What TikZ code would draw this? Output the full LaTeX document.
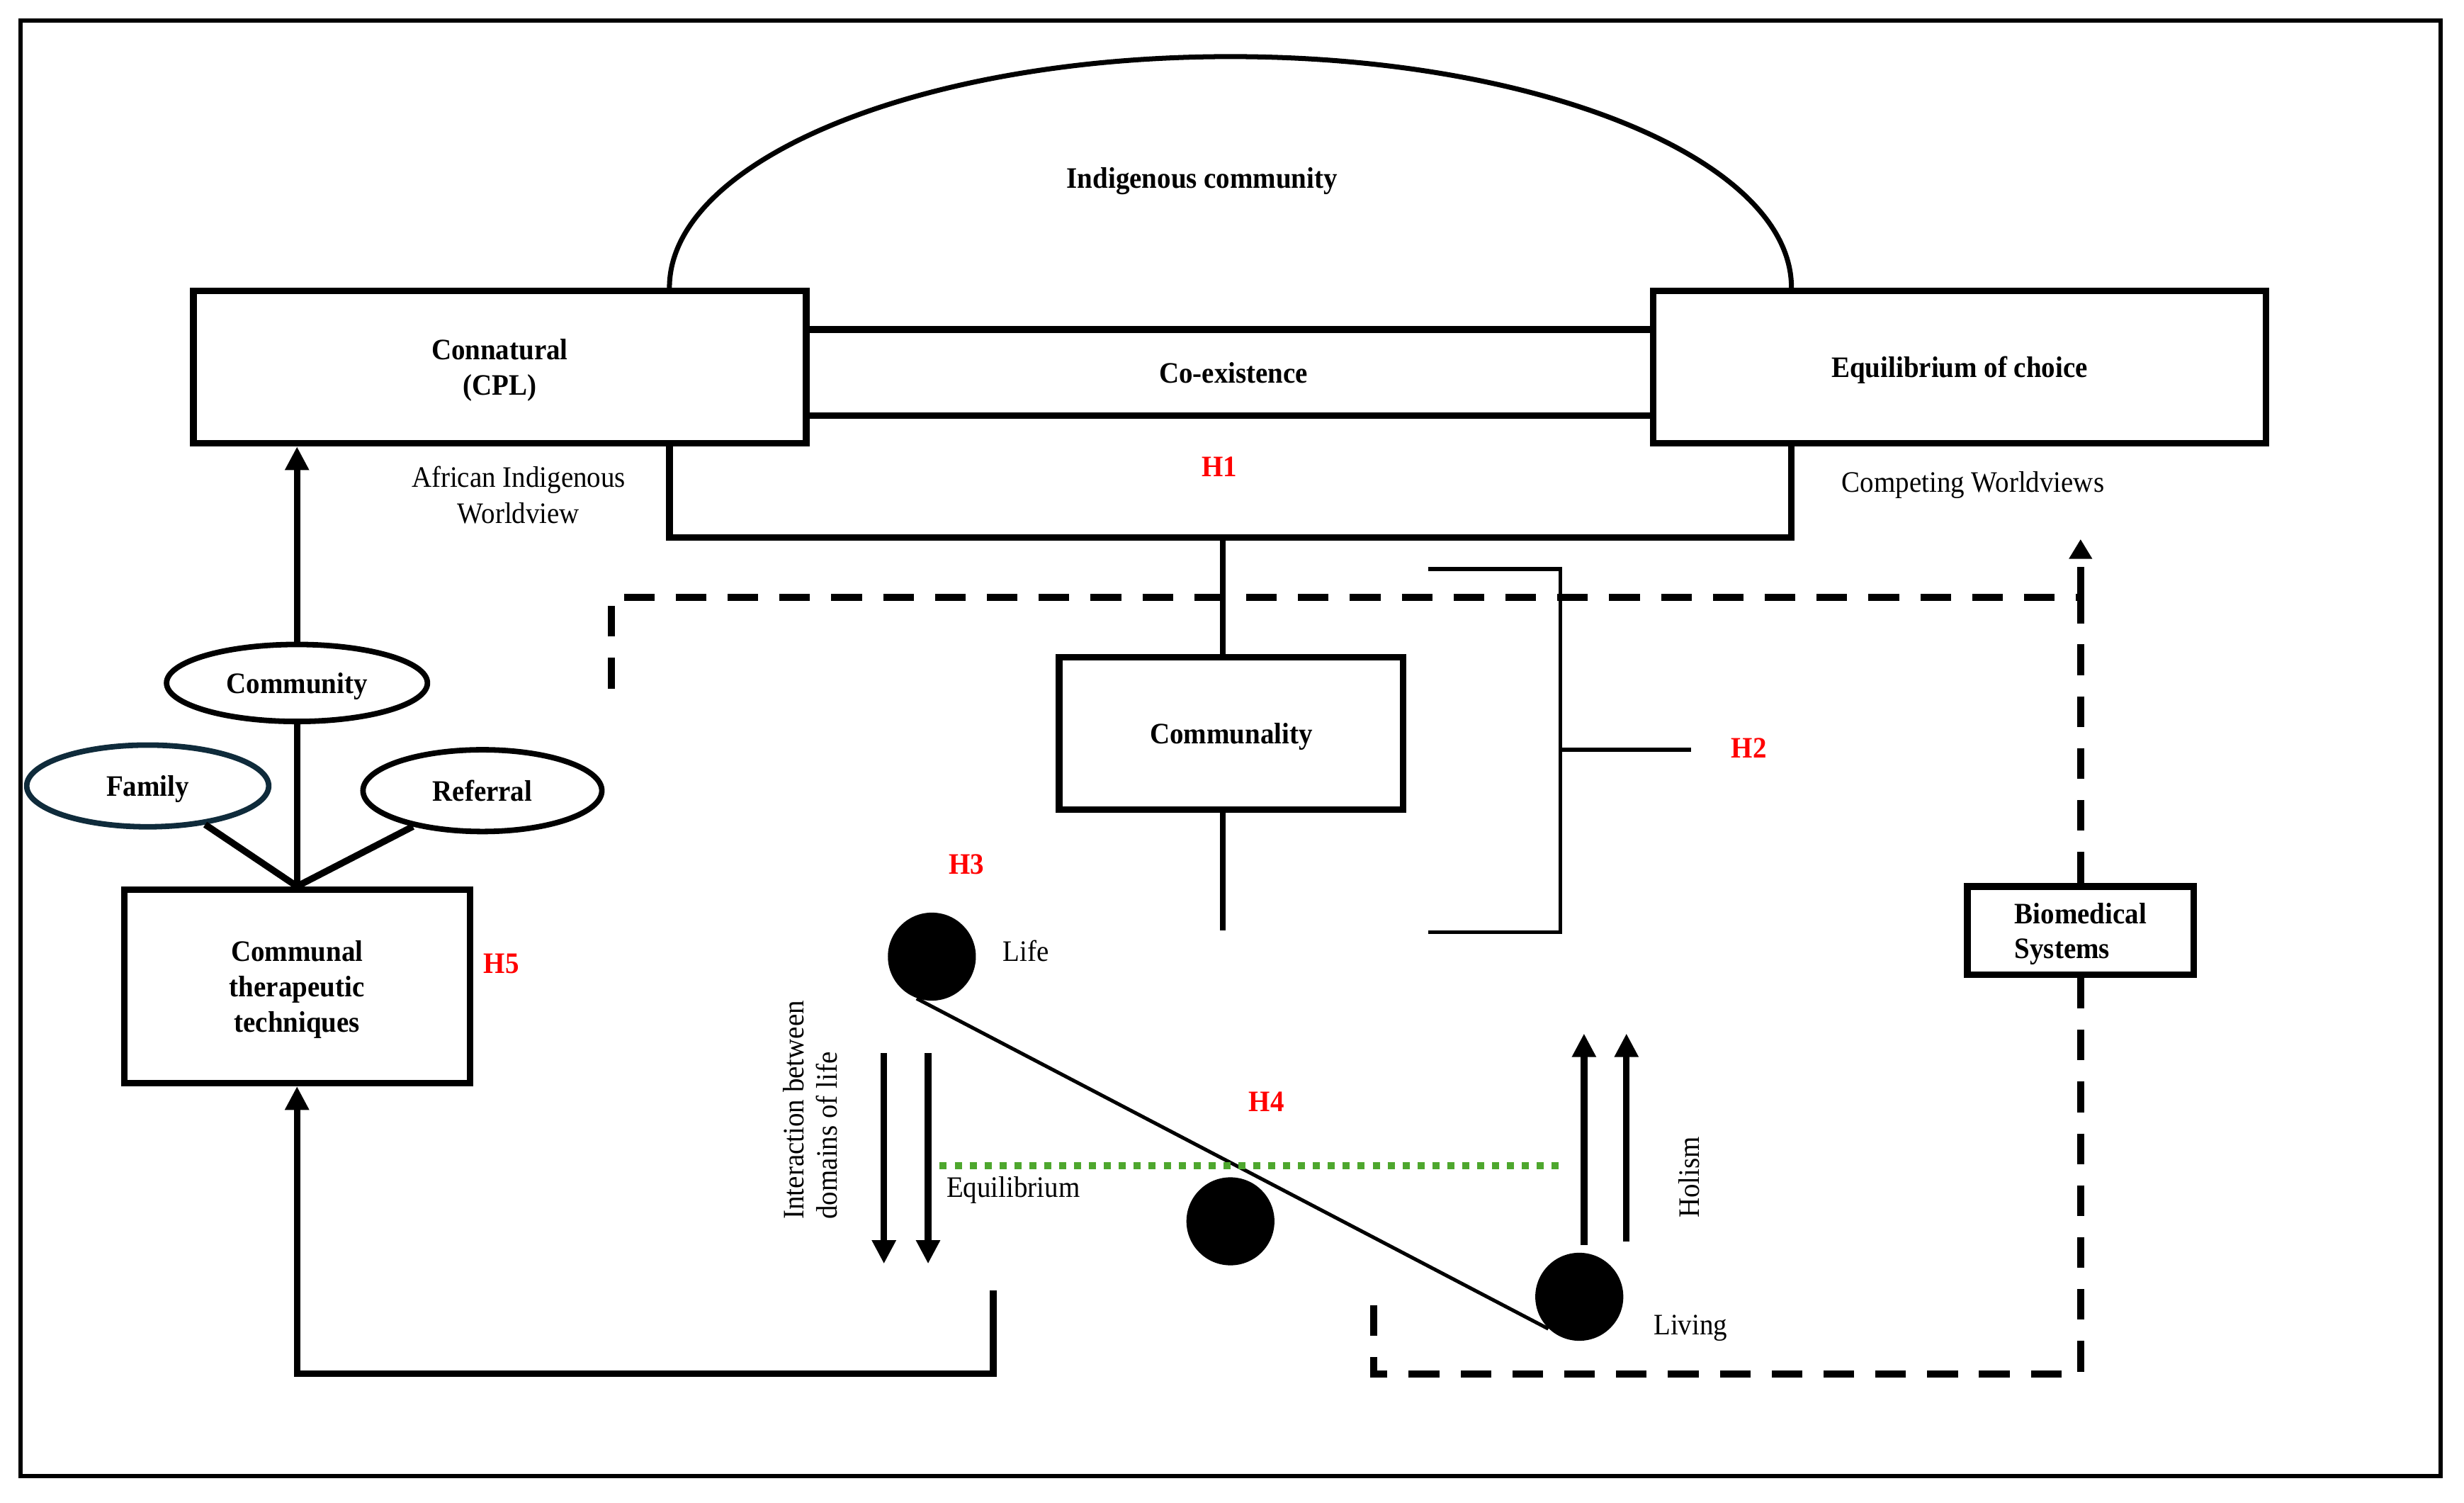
\documentclass[tikz,border=0pt]{standalone}
\usepackage{fontspec}
\setmainfont{Liberation Serif}[FakeStretch=0.93]
\usetikzlibrary{arrows.meta, positioning, shapes.geometric}
\definecolor{hyp}{HTML}{FF0000}
\definecolor{famedge}{HTML}{0F2B3B}
\definecolor{eqgreen}{HTML}{4EA72E}
\newcommand{\nf}{\fontsize{10.75}{13}\selectfont}

\begin{document}
\begin{tikzpicture}[x=0.2mm, y=-0.2mm,
    box/.style={draw, line width=2.4pt, inner sep=0pt, text depth=0pt, align=center, font=\bfseries\nf},
    oval/.style={draw, ellipse, line width=2pt, inner sep=0pt, text depth=0pt, font=\bfseries\nf},
    dot/.style={circle, fill=black, minimum size=11.2mm, inner sep=0pt},
    hlab/.style={text=hyp, font=\bfseries\nf},
    lab/.style={align=center, font=\nf},
    heavy/.style={line width=2.4pt},
    thinrule/.style={line width=1.4pt},
    arr/.style={line width=2.4pt, -{Triangle[width=2.9mm, length=3mm]}},
    dline/.style={line width=2.6pt, dash pattern=on 3.9mm off 2.7mm},
    dtip/.style={-{Triangle[width=2.8mm, length=2.5mm]}}
  ]
  \useasboundingbox (0,0) rectangle (1568,956);
  \draw[line width=1.6pt] (13,13) rectangle (1553,939);

  % top row
  \node[box, minimum width=78mm, minimum height=19.4mm] (conn) at (318,233.5) {Connatural\\(CPL)};
  \node[box, minimum width=78mm, minimum height=19.4mm] (equi) at (1247,233.5) {Equilibrium of choice};
  \node[font=\bfseries\nf, minimum height=10.8mm, inner sep=0pt, text depth=0pt] (coex) at (785,237) {Co-existence};
  \draw[heavy] (conn.east |- coex.north) -- (equi.west |- coex.north);
  \draw[heavy] (conn.east |- coex.south) -- (equi.west |- coex.south);

  \coordinate (archl) at (426,183);
  \draw[line width=1.8pt] (archl) arc[start angle=180, end angle=360, x radius=357, y radius=147];
  \node[font=\bfseries\nf] (indig) at (765,115) {Indigenous community};

  \coordinate (brl) at (426,284);
  \coordinate (brr) at (1140,284);
  \coordinate (h1base) at (778,342);
  \draw[heavy] (brl) -- ++(0,58) -| (brr);
  \node[hlab] (h1) at (776,297) {H1};
  \node[lab] (afr) at (330,315) {African Indigenous\\Worldview};
  \node[lab] (cwv) at (1255.6,308.5) {Competing Worldviews};

  % communality and H2
  \node[box, minimum width=43.8mm, minimum height=19.4mm] (comm) at (783.5,466.5) {Communality};
  \coordinate (commend) at (778,592);
  \draw[line width=2pt] (h1base) -- (h1base |- comm.north);
  \draw[line width=2pt] (h1base |- comm.south) -- (commend);
  \coordinate (h2top) at (909,362);
  \coordinate (h2bot) at (909,593);
  \draw[thinrule] (h2top) -- (993,362) -- (993,593) -- (h2bot);
  \draw[thinrule] (993,477) -- (1076,477);
  \node[hlab] (h2) at (1113,476) {H2};

  % biomedical loop
  \node[box, minimum width=28.8mm, minimum height=11.2mm, align=left, font=\bfseries\fontsize{10.75}{12.5}\selectfont] (bio) at (1324,592) {Biomedical\\Systems};
  \coordinate (dtl) at (389,438);
  \coordinate (dbl) at (874,821);
  \coordinate (cwtip) at (1324,343);
  \draw[dline] (dtl) -- (389,380) -- (bio.north |- 0,380) -- (bio.north);
  \draw[dline, dtip] (bio.north |- 0,380) -- (cwtip);
  \draw[dline] (bio.south) -- (bio.south |- 0,874) -| (dbl);

  % left cluster
  \node[box, minimum width=44mm, minimum height=24.6mm, font=\bfseries\fontsize{10.75}{12.8}\selectfont] (ctt) at (189,627.5) {Communal\\therapeutic\\techniques};
  \node[oval, minimum width=33.2mm, minimum height=9.8mm] (cmty) at (189,434.5) {Community};
  \node[oval, draw=famedge, minimum width=30.8mm, minimum height=10.4mm] (fam) at (94,500) {Family};
  \node[oval, minimum width=30.4mm, minimum height=10.4mm] (ref) at (307,503) {Referral};
  \draw[arr] (cmty.north) -- (cmty.north |- conn.south);
  \draw[heavy] (cmty.south) -- (ctt.north);
  \foreach \e in {fam, ref} \draw[heavy] (\e) -- (ctt.north);
  \node[hlab] (h5) at (319,613) {H5};
  \coordinate (ret) at (632,821);
  \draw[arr] (ret) -- (ret |- 0,874) -| (ctt.south);

  % domains of life
  \node[dot] (life) at (593,608.6) {};
  \node[dot] (mid) at (783,777) {};
  \node[dot] (living) at (1005,825) {};
  \draw[line width=1.3pt] (life.250) -- (living.226);
  \coordinate (eql) at (598,741.6);
  \coordinate (eqr) at (994.6,741.6);
  \draw[eqgreen, line width=2.55pt, dash pattern=on 0.9mm off 1mm] (eql) -- (eqr);
  \foreach \x in {562.5, 590.6} \draw[arr] (\x,670) -- (\x,804);
  \foreach \x/\y in {1008/792, 1035/790} \draw[arr] (\x,\y) -- (\x,657.5);

  \node[lab, anchor=west, inner sep=0pt] (lifet) at (638,605) {Life};
  \node[lab, anchor=west, inner sep=0pt] (livingt) at (1052,845) {Living};
  \node[lab, anchor=west, inner sep=0pt] (eqt) at (602,757) {Equilibrium};
  \node[lab, rotate=90, inner sep=0pt] (holism) at (1075,749) {Holism};
  \node[lab, rotate=90, anchor=west, align=left, inner sep=0pt, font=\fontsize{10.75}{12}\selectfont] (inter) at (515.5,776) {Interaction between\\domains of life};
  \node[hlab] (h3) at (615,550) {H3};
  \node[hlab] (h4) at (806,701) {H4};
\end{tikzpicture}
\end{document}
